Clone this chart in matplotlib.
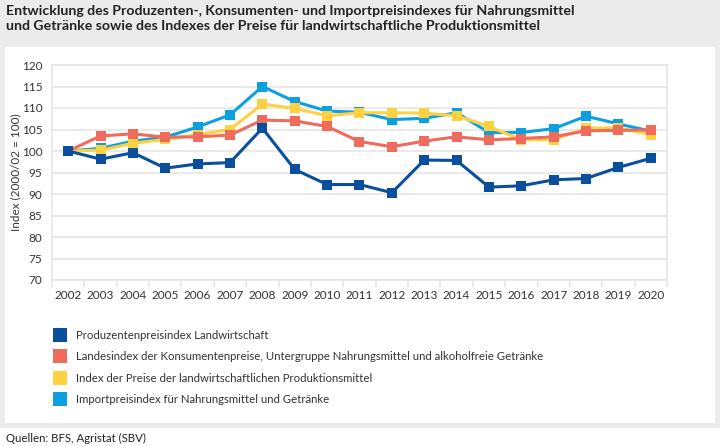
import matplotlib
matplotlib.use("Agg")
import matplotlib.pyplot as plt
from matplotlib.patches import Rectangle
from matplotlib.lines import Line2D
from matplotlib import font_manager

years = [str(y) for y in range(2002, 2021)]

produzenten = [100.0, 98.1, 99.6, 96.0, 97.0, 97.3, 105.3, 95.7, 92.2, 92.2,
               90.3, 97.9, 97.8, 91.6, 91.9, 93.3, 93.6, 96.2, 98.3]
konsumenten = [100.0, 103.5, 104.0, 103.2, 103.3, 103.7, 107.2, 107.0, 105.7, 102.2,
               101.0, 102.3, 103.3, 102.6, 102.9, 103.3, 104.7, 104.8, 104.9]
produktionsmittel = [100.0, 100.2, 101.8, 102.7, 103.8, 105.0, 110.9, 109.9, 108.2, 108.9,
                     108.9, 108.8, 108.2, 105.7, 102.6, 102.6, 105.3, 105.4, 103.8]
importpreis = [100.0, 100.6, 102.3, 103.2, 105.6, 108.4, 115.0, 111.5, 109.3, 109.0,
               107.3, 107.6, 108.9, 104.3, 104.3, 105.2, 108.1, 106.3, 104.6]

labels = ["Produzentenpreisindex Landwirtschaft",
          "Landesindex der Konsumentenpreise, Untergruppe Nahrungsmittel und alkoholfreie Getränke",
          "Index der Preise der landwirtschaftlichen Produktionsmittel",
          "Importpreisindex für Nahrungsmittel und Getränke"]
colors = ["#0a4f9e", "#ef6b5b", "#fdd13f", "#0ba0e2"]

title = ("Entwicklung des Produzenten-, Konsumenten- und Importpreisindexes für Nahrungsmittel\n"
         "und Getränke sowie des Indexes der Preise für landwirtschaftliche Produktionsmittel")
ylabel = "Index (2000/02 = 100)"
source = "Quellen: BFS, Agristat (SBV)"
yticks = [70, 75, 80, 85, 90, 95, 100, 105, 110, 115, 120]

names = {f.name for f in font_manager.fontManager.ttflist}
body_font = "Lato" if "Lato" in names else "DejaVu Sans"

plt.rcParams["font.family"] = [body_font, "DejaVu Sans"]
text_col = "#333333"
grid_col = "#e6e6e6"

W, H = 720, 446
fig = plt.figure(figsize=(W / 100, H / 100), dpi=100)
fig.patch.set_facecolor("white")

# gray frame with white panel
fig.patches.append(Rectangle((0, 1 - 428 / H), 1, 428 / H, transform=fig.transFigure,
                             facecolor="#ebebeb", edgecolor="none", zorder=-20))
fig.patches.append(Rectangle((5 / W, 1 - 423 / H), 710 / W, (423 - 47) / H, transform=fig.transFigure,
                             facecolor="white", edgecolor="none", zorder=-10))

fig.text(6 / W, 1 - 5 / H, title, ha="left", va="top", color="#222222",
         linespacing=1.3, fontweight="bold", fontsize=10.2)
fig.text(6 / W, 1 - 438 / H, source, ha="left", va="center", color="#222222", fontsize=8.2)

ax = fig.add_axes([52 / W, 1 - 280 / H, 615 / W, 215 / H])
ax.set_zorder(5)
ax.set_facecolor("white")
x = list(range(len(years)))
series = [produzenten, konsumenten, produktionsmittel, importpreis]
order = [3, 2, 1, 0]
for z, i in enumerate(order):
    ax.plot(x, series[i], color=colors[i], lw=2.2, marker="s", markersize=7.5,
            markeredgewidth=0, zorder=3 + z)

ax.set_xlim(-0.5, len(years) - 0.5)
ax.set_ylim(70, 120)
ax.set_yticks(yticks)
ax.set_xticks(x)
ax.set_xticklabels(years)
ax.set_xticks([k - 0.5 for k in range(len(years) + 1)], minor=True)
ax.tick_params(axis="x", which="major", length=0, pad=7, labelsize=8.5, labelcolor=text_col)
ax.tick_params(axis="x", which="minor", length=5, color=grid_col, width=1.2)
ax.tick_params(axis="y", which="major", length=0, pad=7, labelsize=8.5, labelcolor=text_col)
ax.grid(axis="y", color=grid_col, lw=1.2, zorder=0)
for s in ax.spines.values():
    s.set_color(grid_col)
    s.set_linewidth(1.2)
ax.set_axisbelow(True)
ax.set_ylabel(ylabel, fontsize=8.5, color=text_col, labelpad=0)

handles = [Line2D([], [], marker="s", linestyle="none", markersize=9.5, color=c, markeredgewidth=0)
           for c in colors]
leg = fig.legend(handles, labels, loc="upper left", bbox_to_anchor=(54 / W, 1 - 330 / H),
                 frameon=False, fontsize=8.2, handlelength=1.0, handletextpad=0.9,
                 labelspacing=0.9, borderaxespad=0, borderpad=0)
for t in leg.get_texts():
    t.set_color(text_col)

fig.savefig("out.png", dpi=100)
